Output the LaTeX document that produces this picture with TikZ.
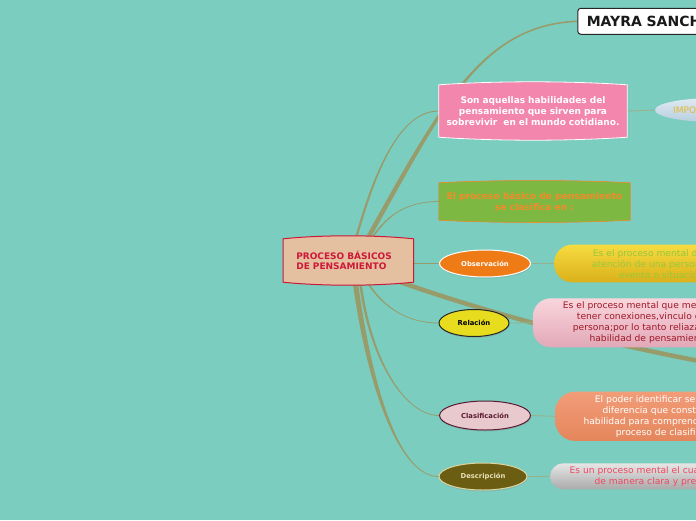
\documentclass[tikz,border=0pt]{standalone}
\usepackage{fontspec}
\setmainfont{DejaVu Sans}
\newfontfamily\descfont[FakeStretch=1.02]{DejaVu Sans}
\usetikzlibrary{calc,shapes.geometric,shadows}
\pgfdeclarelayer{bg}\pgfdeclarelayer{mid}\pgfsetlayers{bg,mid,main}
\definecolor{bgc}{RGB}{123,205,192}
\definecolor{conn}{RGB}{152,156,106}
\definecolor{linkc}{RGB}{150,178,140}
\definecolor{ctrfill}{RGB}{228,192,160}
\definecolor{crim}{RGB}{206,24,56}
\definecolor{pinkf}{RGB}{242,134,172}
\definecolor{greenf}{RGB}{125,184,67}
\definecolor{orangetx}{RGB}{242,140,40}
\definecolor{obsf}{RGB}{238,123,22}
\definecolor{relf}{RGB}{232,220,30}
\definecolor{claf}{RGB}{232,201,205}
\definecolor{clad}{RGB}{90,26,48}
\definecolor{desf}{RGB}{107,94,18}
\definecolor{desb}{RGB}{221,213,160}
\definecolor{destx}{RGB}{232,224,184}
\definecolor{ytop}{RGB}{246,220,64}\definecolor{ybot}{RGB}{218,176,26}\definecolor{ytx}{RGB}{150,200,60}
\definecolor{ptop}{RGB}{249,213,220}\definecolor{pbot}{RGB}{226,168,184}\definecolor{ptx}{RGB}{160,24,40}
\definecolor{otop}{RGB}{242,156,120}\definecolor{omid}{RGB}{214,106,60}\definecolor{obot}{RGB}{228,134,92}
\definecolor{gtop}{RGB}{230,230,230}\definecolor{gbot}{RGB}{170,170,170}\definecolor{gtx}{RGB}{240,72,96}
\definecolor{itop}{RGB}{222,234,242}\definecolor{ibot}{RGB}{184,206,222}\definecolor{itx}{RGB}{232,184,48}
% tapered connectors
\newcommand\taperup[6]{\fill[fill=conn] ($(#1)+(-#5,0)$) .. controls ($(#2)+(-#5,0)$) and ($(#3)+(0,-#6)$) .. ($(#4)+(0,-#6)$) -- ($(#4)+(0,#6)$) .. controls ($(#3)+(0,#6)$) and ($(#2)+(#5,0)$) .. ($(#1)+(#5,0)$) -- cycle;}
\newcommand\taperdown[6]{\fill[fill=conn] ($(#1)+(-#5,0)$) .. controls ($(#2)+(-#5,0)$) and ($(#3)+(0,#6)$) .. ($(#4)+(0,#6)$) -- ($(#4)+(0,-#6)$) .. controls ($(#3)+(0,-#6)$) and ($(#2)+(#5,0)$) .. ($(#1)+(#5,0)$) -- cycle;}
\newcommand\bulgebox[3]{\path[#1] (#2.north west) .. controls ($(#2.north west)!0.3!(#2.north east)+(0,-#3)$) and ($(#2.north west)!0.7!(#2.north east)+(0,-#3)$) .. (#2.north east) -- (#2.south east) .. controls ($(#2.south west)!0.7!(#2.south east)+(0,#3)$) and ($(#2.south west)!0.3!(#2.south east)+(0,#3)$) .. (#2.south west) -- cycle;}
\begin{document}
\begin{tikzpicture}[x=1pt,y=-1pt,
  bfont/.style={font=\fontsize{9}{11.3}\selectfont\bfseries},
  bbox/.style={rectangle, inner sep=0pt},
  ell/.style={ellipse, inner sep=0pt, line width=1pt, font=\fontsize{6.8}{8}\selectfont\bfseries,
    drop shadow={opacity=0.25, shadow xshift=0.5pt, shadow yshift=-1.5pt}},
  desc/.style={rectangle, inner sep=0pt, minimum width=260pt, anchor=west},
  dtext/.style={anchor=west, align=left, inner sep=0pt, font=\descfont\fontsize{9}{11}\selectfont},
  link/.style={draw=linkc, line width=0.9pt}]
\useasboundingbox (0,0) rectangle (696,520);

% ---------- nodes ----------
\node[bbox, text width=104pt, inner xsep=13pt, minimum height=43pt, align=left, text=crim,
  font=\fontsize{9}{10.7}\selectfont\bfseries] (ctr) at (348.3,260.5) {PROCESO BÁSICOS\\DE PENSAMIENTO};
\node[bbox, minimum width=188pt, minimum height=52pt, text width=186pt, align=center, text=white, bfont]
  (pink) at (533,111) {Son aquellas habilidades del\\pensamiento que sirven para\\sobrevivir~ en el mundo cotidiano.};
\node[bbox, minimum width=191pt, minimum height=37pt, text width=189pt, align=center, text=orangetx,
  font=\fontsize{9.2}{11}\selectfont\bfseries] (green) at (534.5,201.5) {El proceso básico de pensamiento\\se clasifica en :};
\node[draw=black!85, line width=1pt, fill=white, rounded corners=3pt, anchor=west, minimum height=26pt,
  minimum width=160pt, text width=142pt, inner xsep=9pt, align=left,
  font=\fontsize{14}{15}\selectfont\bfseries, text=black!90] (may) at (577.3,21.3) {MAYRA SANCHE};
\node[ellipse, minimum width=120pt, minimum height=24pt, top color=itop, bottom color=ibot, inner sep=0pt]
  (impo) at (715,110) {};
\node[anchor=west, text=itx, font=\fontsize{9}{11}\selectfont, inner sep=0pt] (impot) at (673,110) {IMPO};

% description boxes
\node[desc, minimum height=37.6pt, rounded corners=18pt, top color=ytop, bottom color=ybot] (obsd) at (554,263.5) {};
\node[desc, minimum height=49pt, rounded corners=18pt, top color=ptop, bottom color=pbot] (reld) at (532.7,322.8) {};
\node[desc, minimum height=49.3pt, rounded corners=20pt, top color=otop, middle color=omid, bottom color=obot] (clad) at (555,416.3) {};
\node[desc, minimum height=26pt, rounded corners=13pt, top color=gtop, bottom color=gbot] (desd) at (550,476.3) {};

\node[dtext, text=ytx] (obst) at (591.7,263.7) {\hspace*{1pt}Es el proceso mental d\\atención de una person\\\hspace*{27pt}evento o situació};
\node[dtext, text=ptx] (relt) at (562.7,323) {Es el proceso mental que me\\\hspace*{14pt}tener conexiones,vinculo e\\\hspace*{10pt}persona;por lo tanto reliaza\\\hspace*{26.6pt}habilidad de pensamien};
\node[dtext, text=white] (clat) at (583.3,416.7) {\hspace*{11.4pt}El poder identificar sen\\\hspace*{19pt}diferencia que consti\\habilidad para comprende\\\hspace*{32.4pt}proceso de clasific};
\node[dtext, text=gtx] (dest) at (569.3,476.5) {Es un proceso mental el cua\\\hspace*{25pt}de manera clara y pre};

% ellipses
\node[ell, minimum width=91pt, minimum height=27pt, fill=obsf, draw=white, text=white] (obs) at (485,263.5) {Observación};
\node[ell, minimum width=70pt, minimum height=27pt, fill=relf, draw=black!85, text=black] (rel) at (474,323) {Relación};
\node[ell, minimum width=91pt, minimum height=29pt, fill=claf, draw=clad, text=clad] (cla) at (485,415.5) {Clasificación};
\node[ell, minimum width=88pt, minimum height=27pt, fill=desf, draw=desb, text=destx] (des) at (483,476.5) {Descripción};

% start points of connectors
\coordinate (sA) at ($(ctr.north)+(18,2)$);
\coordinate (sB) at ($(ctr.north)+(7,2)$);
\coordinate (sC) at ($(ctr.north)+(22,2)$);
\coordinate (sE) at ($(ctr.south east)+(-13,0)$);
\coordinate (sF) at ($(ctr.south)+(19,0)$);
\coordinate (sG) at ($(ctr.south)+(12,0)$);
\coordinate (sH) at ($(ctr.south)+(7,0)$);
\coordinate (offR) at (760,372);

% ---------- box shapes ----------
\begin{pgfonlayer}{mid}
\bulgebox{fill=black, opacity=0.2, xshift=0.5pt, yshift=-2pt}{pink}{4}
\bulgebox{fill=pinkf, draw=white, line width=0.8pt}{pink}{4}
\bulgebox{fill=black, opacity=0.3, xshift=0.5pt, yshift=-2pt}{green}{3}
\bulgebox{fill=greenf, draw=orangetx, line width=0.6pt}{green}{3}
\bulgebox{fill=ctrfill, draw=crim, line width=1pt}{ctr}{4}
\end{pgfonlayer}

% ---------- connectors ----------
\begin{pgfonlayer}{bg}
\fill[bgc] (0,0) rectangle (696,520);
\clip (0,0) rectangle (696,520);
\taperup{sA}{440,110}{480,25}{may.west}{2.6}{0.8}
\taperup{sB}{375,170}{400,111}{pink.west}{1.2}{0.5}
\taperup{sC}{388,212}{410,201.5}{green.west}{1}{0.4}
\taperdown{sF}{385,310}{410,323}{rel.west}{1}{0.4}
\taperdown{sG}{370,360}{405,415.5}{cla.west}{1.3}{0.4}
\taperdown{sH}{370,390}{400,476.5}{des.west}{2.6}{0.4}
\draw[conn, line width=4.5pt] (sE) .. controls (480,310) and (600,345) .. (offR);
\draw[conn, line width=1pt] (ctr.east |- obs.west) -- (obs.west);
\draw[link] (pink.east) -- (impo.west);
\draw[link] (obs.east) -- (obsd.west);
\draw[link] (rel.east) -- (reld.west);
\draw[link] (cla.east) -- (clad.west);
\draw[link] (des.east) -- (desd.west);
\end{pgfonlayer}
\end{tikzpicture}
\end{document}
